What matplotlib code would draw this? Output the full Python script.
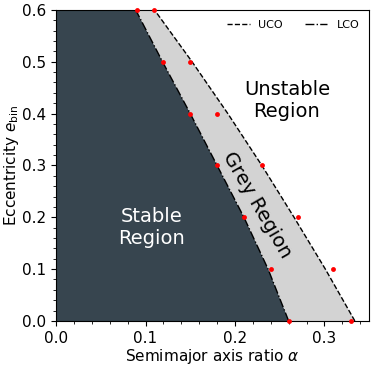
import matplotlib
matplotlib.use("Agg")
import matplotlib.pyplot as plt
import numpy as np
from matplotlib.ticker import MultipleLocator

# Data
ecc_grid = [0.0, 0.1, 0.2, 0.3, 0.4, 0.5, 0.6]
lco_alpha = [0.260, 0.237, 0.210, 0.180, 0.150, 0.119, 0.089]
uco_alpha = [0.334, 0.301, 0.266, 0.230, 0.192, 0.152, 0.110]

pts_ecc = [0.0, 0.1, 0.2, 0.3, 0.4, 0.5, 0.6]
pts_lco = [0.26, 0.24, 0.21, 0.18, 0.15, 0.12, 0.09]
pts_uco = [0.33, 0.31, 0.27, 0.23, 0.18, 0.15, 0.11]

fig = plt.figure(figsize=(3.74, 3.68), dpi=100)
ax = fig.add_axes([0.150, 0.128, 0.837, 0.845])

ax.fill_betweenx(ecc_grid, 0, lco_alpha, color="#37454f", lw=0)
ax.fill_betweenx(ecc_grid, lco_alpha, uco_alpha, color="#d3d3d3", lw=0)
ax.plot(uco_alpha, ecc_grid, "k--", lw=1, label="UCO")
ax.plot(lco_alpha, ecc_grid, "k-.", lw=1, label="LCO")
ax.plot(pts_lco, pts_ecc, "o", color="red", ms=3.5, mec="none", clip_on=False, zorder=5)
ax.plot(pts_uco, pts_ecc, "o", color="red", ms=3.5, mec="none", clip_on=False, zorder=5)

ax.set_xlim(0, 0.35)
ax.set_ylim(0, 0.6)
ax.xaxis.set_major_locator(MultipleLocator(0.1))
ax.xaxis.set_minor_locator(MultipleLocator(0.02))
ax.yaxis.set_major_locator(MultipleLocator(0.1))
ax.yaxis.set_minor_locator(MultipleLocator(0.02))
ax.tick_params(labelsize=11)

ax.set_xlabel(r"Semimajor axis ratio $\alpha$", fontsize=11, labelpad=1)
ax.set_ylabel(r"Eccentricity $e_{\rm bin}$", fontsize=11, labelpad=1)

ax.text(0.107, 0.180, "Stable\nRegion", color="white", fontsize=14,
        ha="center", va="center", linespacing=1.2)
ax.text(0.258, 0.425, "Unstable\nRegion", color="black", fontsize=14,
        ha="center", va="center", linespacing=1.2)
ax.text(0.2246, 0.224, "Grey Region", color="black", fontsize=14,
        ha="center", va="center", rotation=-60)

ax.legend(loc="upper right", ncol=2, frameon=False, fontsize=8, handlelength=2.0,
          columnspacing=2.0)

fig.savefig("out.png", dpi=100)
